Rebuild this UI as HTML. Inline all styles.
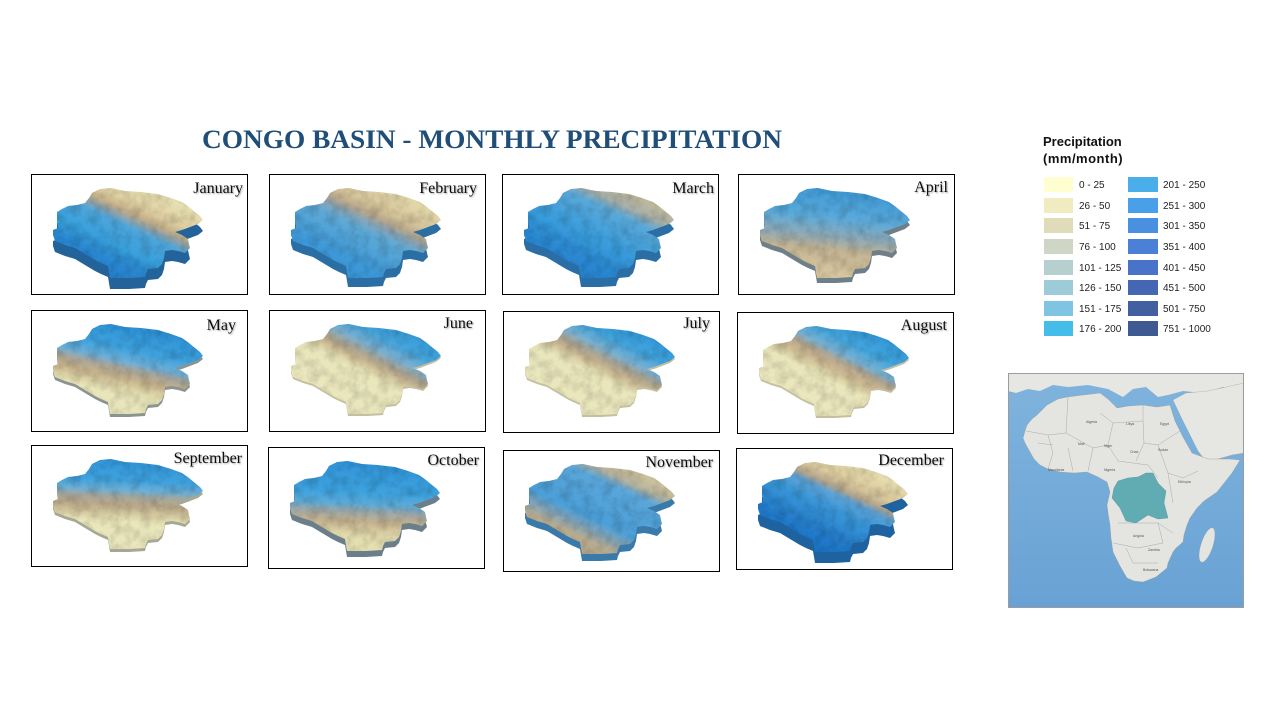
<!DOCTYPE html>
<html><head><meta charset="utf-8"><style>
html,body{margin:0;padding:0;background:#fff;}
svg{display:block;}
.m{font-family:"Liberation Serif",serif;font-size:16px;fill:#111;text-anchor:end;}
.lg{font-family:"Liberation Sans",sans-serif;font-size:10px;fill:#222;}
.ml{font-family:"Liberation Sans",sans-serif;font-size:3.5px;fill:#555;}
</style></head><body>
<svg width="1280" height="720" viewBox="0 0 1280 720" xmlns="http://www.w3.org/2000/svg">
<defs>
<path id="P" d="M69,15 L80,14 L94,17 L110,18 L127,20 L140,24 L151,28 L158,33 L164,38 L169,42 L172,46 L167,50 L159,53 L151,56 L144,58 L151,61 L157,65 L158,70 L159,74 L154,79 L147,77 L141,76 L134,77 L133,84 L131,90 L127,94 L117,95 L115,99 L114,103 L98,104 L79,104 L78,98 L77,92 L70,89 L64,86 L54,80 L44,74 L34,71 L24,67 L22,61 L22,56 L27,54 L26,46 L26,38 L31,35 L37,32 L46,31 L54,29 L58,24 L61,19 Z"/>
<filter id="tex" x="0" y="0" width="1" height="1">
<feTurbulence type="fractalNoise" baseFrequency="0.1" numOctaves="3" seed="4" result="n"/>
<feColorMatrix in="n" type="matrix" values="0 0 0 0 0  0 0 0 0 0  0 0 0 0 0  0.6 0 0 0 -0.22" result="d"/>
<feComposite in="d" in2="SourceAlpha" operator="in" result="m"/>
<feMerge><feMergeNode in="SourceGraphic"/><feMergeNode in="m"/></feMerge>
</filter>
<filter id="sh" x="-10%" y="-20%" width="130%" height="160%">
<feDropShadow dx="1" dy="1" stdDeviation="0.8" flood-color="#000" flood-opacity="0.35"/>
</filter>
<linearGradient id="gJan" gradientUnits="userSpaceOnUse" x1="117" y1="8" x2="80" y2="88"><stop offset="0" stop-color="#ebe5b8"/><stop offset="0.28" stop-color="#e0d2a4"/><stop offset="0.4" stop-color="#c3ae88"/><stop offset="0.48" stop-color="#8ea5b0"/><stop offset="0.56" stop-color="#4ea6db"/><stop offset="0.8" stop-color="#3aa0dc"/><stop offset="1" stop-color="#2a85cf"/></linearGradient>
<linearGradient id="gFeb" gradientUnits="userSpaceOnUse" x1="117" y1="8" x2="80" y2="88"><stop offset="0" stop-color="#e8dfb0"/><stop offset="0.28" stop-color="#d8c79c"/><stop offset="0.4" stop-color="#b9a88c"/><stop offset="0.5" stop-color="#86a5b8"/><stop offset="0.6" stop-color="#5faad7"/><stop offset="1" stop-color="#3d98d8"/></linearGradient>
<linearGradient id="gMar" gradientUnits="userSpaceOnUse" x1="117" y1="8" x2="80" y2="88"><stop offset="0" stop-color="#cdbf98"/><stop offset="0.22" stop-color="#a7b0aa"/><stop offset="0.34" stop-color="#5aa8d8"/><stop offset="0.7" stop-color="#3a9ddc"/><stop offset="1" stop-color="#2b86d0"/></linearGradient>
<linearGradient id="gApr" gradientUnits="userSpaceOnUse" x1="100" y1="10" x2="90" y2="105"><stop offset="0" stop-color="#3b96d5"/><stop offset="0.35" stop-color="#5aaadb"/><stop offset="0.55" stop-color="#8eaab8"/><stop offset="0.7" stop-color="#c4b493"/><stop offset="1" stop-color="#dbcca3"/></linearGradient>
<linearGradient id="gMay" gradientUnits="userSpaceOnUse" x1="95" y1="10" x2="75" y2="100"><stop offset="0" stop-color="#2c8fd5"/><stop offset="0.3" stop-color="#3ea2de"/><stop offset="0.44" stop-color="#6fb0d8"/><stop offset="0.52" stop-color="#a9a69a"/><stop offset="0.62" stop-color="#c6b28c"/><stop offset="0.72" stop-color="#dcd3a6"/><stop offset="0.8" stop-color="#e9e6ba"/><stop offset="1" stop-color="#eae7bd"/></linearGradient>
<linearGradient id="gJun" gradientUnits="userSpaceOnUse" x1="130" y1="5" x2="90" y2="85"><stop offset="0" stop-color="#2f95d8"/><stop offset="0.3" stop-color="#45a5dc"/><stop offset="0.45" stop-color="#7aafcf"/><stop offset="0.55" stop-color="#a9a697"/><stop offset="0.62" stop-color="#c2b08e"/><stop offset="0.7" stop-color="#ddd4a8"/><stop offset="0.76" stop-color="#e9e6bc"/><stop offset="1" stop-color="#eae7bd"/></linearGradient>
<linearGradient id="gJul" gradientUnits="userSpaceOnUse" x1="130" y1="5" x2="90" y2="85"><stop offset="0" stop-color="#2a93d8"/><stop offset="0.32" stop-color="#42a4dd"/><stop offset="0.47" stop-color="#7ab0d0"/><stop offset="0.56" stop-color="#a9a697"/><stop offset="0.64" stop-color="#c2b08e"/><stop offset="0.72" stop-color="#ddd4a8"/><stop offset="0.78" stop-color="#e9e6bc"/><stop offset="1" stop-color="#eae7bd"/></linearGradient>
<linearGradient id="gAug" gradientUnits="userSpaceOnUse" x1="130" y1="5" x2="90" y2="85"><stop offset="0" stop-color="#2a8fd6"/><stop offset="0.35" stop-color="#45a7de"/><stop offset="0.5" stop-color="#7ab0d0"/><stop offset="0.57" stop-color="#b0a894"/><stop offset="0.66" stop-color="#c8b38e"/><stop offset="0.76" stop-color="#ddd3a7"/><stop offset="0.82" stop-color="#e9e6bc"/><stop offset="1" stop-color="#eae7bd"/></linearGradient>
<linearGradient id="gSep" gradientUnits="userSpaceOnUse" x1="100" y1="5" x2="95" y2="105"><stop offset="0" stop-color="#2d8fd5"/><stop offset="0.3" stop-color="#3fa2de"/><stop offset="0.4" stop-color="#6cb0d8"/><stop offset="0.47" stop-color="#a5a79c"/><stop offset="0.55" stop-color="#bba98a"/><stop offset="0.65" stop-color="#d8cea3"/><stop offset="0.72" stop-color="#e9e6ba"/><stop offset="1" stop-color="#eae7bd"/></linearGradient>
<linearGradient id="gOct" gradientUnits="userSpaceOnUse" x1="100" y1="5" x2="95" y2="105"><stop offset="0" stop-color="#2d8fd6"/><stop offset="0.4" stop-color="#3ea2de"/><stop offset="0.52" stop-color="#5cabd8"/><stop offset="0.6" stop-color="#9ea9ab"/><stop offset="0.7" stop-color="#c4b18e"/><stop offset="0.84" stop-color="#e2dbad"/><stop offset="1" stop-color="#e8e4b6"/></linearGradient>
<linearGradient id="gNov" gradientUnits="userSpaceOnUse" x1="117" y1="8" x2="80" y2="88"><stop offset="0" stop-color="#d9cba0"/><stop offset="0.2" stop-color="#b9b49e"/><stop offset="0.32" stop-color="#5aa6da"/><stop offset="0.75" stop-color="#4c9fd8"/><stop offset="0.9" stop-color="#8ea8b4"/><stop offset="1" stop-color="#b7ab8f"/></linearGradient>
<linearGradient id="gDec" gradientUnits="userSpaceOnUse" x1="117" y1="8" x2="80" y2="88"><stop offset="0" stop-color="#ebe4b6"/><stop offset="0.28" stop-color="#dccb9e"/><stop offset="0.4" stop-color="#b4a58c"/><stop offset="0.48" stop-color="#5fa3d6"/><stop offset="0.65" stop-color="#3a97d8"/><stop offset="1" stop-color="#2378c8"/></linearGradient>
<linearGradient id="ocean" x1="0" y1="0" x2="0" y2="1"><stop offset="0" stop-color="#80b4de"/><stop offset="1" stop-color="#68a2d4"/></linearGradient>
<clipPath id="mapclip"><rect x="0" y="0" width="236" height="235"/></clipPath>
</defs>

<rect width="1280" height="720" fill="#fff"/>

<text x="202" y="148" textLength="580" lengthAdjust="spacingAndGlyphs" style="font-family:'Liberation Serif',serif;font-weight:bold;font-size:26px;fill:#1f4e79;">CONGO BASIN - MONTHLY PRECIPITATION</text>

<!-- Panels -->
<g transform="translate(31,174)">
<rect x="0.5" y="0.5" width="216" height="120" fill="#fff" stroke="#000" stroke-width="1"/>
<use href="#P" transform="translate(0,11)" fill="#23639a"/>
<use href="#P" fill="url(#gJan)" filter="url(#tex)"/>
<text class="m" x="212" y="19" filter="url(#sh)">January</text>
</g>
<g transform="translate(269,174)">
<rect x="0.5" y="0.5" width="216" height="120" fill="#fff" stroke="#000" stroke-width="1"/>
<use href="#P" transform="translate(0,9)" fill="#2a6ea3"/>
<use href="#P" fill="url(#gFeb)" filter="url(#tex)"/>
<text class="m" x="208" y="19" filter="url(#sh)">February</text>
</g>
<g transform="translate(502,174)">
<rect x="0.5" y="0.5" width="216" height="120" fill="#fff" stroke="#000" stroke-width="1"/>
<use href="#P" transform="translate(0,9)" fill="#2b6da5"/>
<use href="#P" fill="url(#gMar)" filter="url(#tex)"/>
<text class="m" x="212" y="19" filter="url(#sh)">March</text>
</g>
<g transform="translate(738,174)">
<rect x="0.5" y="0.5" width="216" height="120" fill="#fff" stroke="#000" stroke-width="1"/>
<use href="#P" transform="translate(0,5)" fill="#6f7f88"/>
<use href="#P" fill="url(#gApr)" filter="url(#tex)"/>
<text class="m" x="210" y="18" filter="url(#sh)">April</text>
</g>

<g transform="translate(31,310)">
<rect x="0.5" y="0.5" width="216" height="121" fill="#fff" stroke="#000" stroke-width="1"/>
<use href="#P" transform="translate(0,3)" fill="#8c9490"/>
<use href="#P" fill="url(#gMay)" filter="url(#tex)"/>
<text class="m" x="205" y="20" filter="url(#sh)">May</text>
</g>
<g transform="translate(269,310)">
<rect x="0.5" y="0.5" width="216" height="121" fill="#fff" stroke="#000" stroke-width="1"/>
<use href="#P" transform="translate(0,2)" fill="#c4bf9f"/>
<use href="#P" fill="url(#gJun)" filter="url(#tex)"/>
<text class="m" x="204" y="18" filter="url(#sh)">June</text>
</g>
<g transform="translate(503,311)">
<rect x="0.5" y="0.5" width="216" height="121" fill="#fff" stroke="#000" stroke-width="1"/>
<use href="#P" transform="translate(0,2)" fill="#c4bf9f"/>
<use href="#P" fill="url(#gJul)" filter="url(#tex)"/>
<text class="m" x="207" y="17" filter="url(#sh)">July</text>
</g>
<g transform="translate(737,312)">
<rect x="0.5" y="0.5" width="216" height="121" fill="#fff" stroke="#000" stroke-width="1"/>
<use href="#P" transform="translate(0,2)" fill="#c4bf9f"/>
<use href="#P" fill="url(#gAug)" filter="url(#tex)"/>
<text class="m" x="210" y="18" filter="url(#sh)">August</text>
</g>

<g transform="translate(31,445)">
<rect x="0.5" y="0.5" width="216" height="121" fill="#fff" stroke="#000" stroke-width="1"/>
<use href="#P" transform="translate(0,3)" fill="#a6a894"/>
<use href="#P" fill="url(#gSep)" filter="url(#tex)"/>
<text class="m" x="211" y="18" filter="url(#sh)">September</text>
</g>
<g transform="translate(268,447)">
<rect x="0.5" y="0.5" width="216" height="121" fill="#fff" stroke="#000" stroke-width="1"/>
<use href="#P" transform="translate(0,6)" fill="#6a7f8a"/>
<use href="#P" fill="url(#gOct)" filter="url(#tex)"/>
<text class="m" x="211" y="18" filter="url(#sh)">October</text>
</g>
<g transform="translate(503,450)">
<rect x="0.5" y="0.5" width="216" height="121" fill="#fff" stroke="#000" stroke-width="1"/>
<use href="#P" transform="translate(0,7)" fill="#3a7aaa"/>
<use href="#P" fill="url(#gNov)" filter="url(#tex)"/>
<text class="m" x="210" y="17" filter="url(#sh)">November</text>
</g>
<g transform="translate(736,448)">
<rect x="0.5" y="0.5" width="216" height="121" fill="#fff" stroke="#000" stroke-width="1"/>
<use href="#P" transform="translate(0,11)" fill="#1f62a0"/>
<use href="#P" fill="url(#gDec)" filter="url(#tex)"/>
<text class="m" x="208" y="17" filter="url(#sh)">December</text>
</g>

<!-- Legend -->
<text x="1043" y="146" style="font-family:'Liberation Sans',sans-serif;font-weight:bold;font-size:13px;fill:#111;">Precipitation</text>
<text x="1043" y="163" style="font-family:'Liberation Sans',sans-serif;font-weight:bold;font-size:13px;fill:#111;letter-spacing:0.5px;">(mm/month)</text>
<g>
<rect x="1044" y="177" width="29" height="15" fill="#fefed0"/><text class="lg" x="1079" y="188">0 - 25</text>
<rect x="1044" y="198" width="29" height="15" fill="#f0ebc0"/><text class="lg" x="1079" y="209">26 - 50</text>
<rect x="1044" y="218" width="29" height="15" fill="#e0dbb8"/><text class="lg" x="1079" y="229">51 - 75</text>
<rect x="1044" y="239" width="29" height="15" fill="#d0d6c5"/><text class="lg" x="1079" y="250">76 - 100</text>
<rect x="1044" y="260" width="29" height="15" fill="#b6cfcf"/><text class="lg" x="1079" y="271">101 - 125</text>
<rect x="1044" y="280" width="29" height="15" fill="#9ecbd8"/><text class="lg" x="1079" y="291">126 - 150</text>
<rect x="1044" y="301" width="29" height="15" fill="#7fc4e2"/><text class="lg" x="1079" y="312">151 - 175</text>
<rect x="1044" y="321" width="29" height="15" fill="#45bde9"/><text class="lg" x="1079" y="332">176 - 200</text>
<rect x="1128" y="177" width="30" height="15" fill="#4aaeea"/><text class="lg" x="1163" y="188">201 - 250</text>
<rect x="1128" y="198" width="30" height="15" fill="#4aa0e8"/><text class="lg" x="1163" y="209">251 - 300</text>
<rect x="1128" y="218" width="30" height="15" fill="#4a90e0"/><text class="lg" x="1163" y="229">301 - 350</text>
<rect x="1128" y="239" width="30" height="15" fill="#4a80d6"/><text class="lg" x="1163" y="250">351 - 400</text>
<rect x="1128" y="260" width="30" height="15" fill="#4873c8"/><text class="lg" x="1163" y="271">401 - 450</text>
<rect x="1128" y="280" width="30" height="15" fill="#4466b4"/><text class="lg" x="1163" y="291">451 - 500</text>
<rect x="1128" y="301" width="30" height="15" fill="#42609f"/><text class="lg" x="1163" y="312">501 - 750</text>
<rect x="1128" y="321" width="30" height="15" fill="#3f5a92"/><text class="lg" x="1163" y="332">751 - 1000</text>
</g>

<!-- Locator map -->
<g transform="translate(1008,373)">
<g clip-path="url(#mapclip)">
<rect x="0" y="0" width="236" height="235" fill="url(#ocean)"/>
<!-- Europe -->
<path d="M0,0 L236,0 L236,16 L215,14 L195,20 L175,18 L160,22 L150,24 L138,14 L125,16 L115,24 L100,16 L80,12 L60,14 L45,12 L32,18 L20,16 L8,20 L0,18 Z" fill="#e6e7e3"/>
<!-- Arabia / Middle East -->
<path d="M165,27 L178,20 L200,18 L236,10 L236,80 L224,82 L210,86 L197,87 L190,78 L182,62 L174,46 Z" fill="#e6e7e3" stroke="#9a9a9a" stroke-width="0.3"/>
<!-- Africa -->
<path d="M39,32 L50,26 L59,24 L75,22 L92,20 L100,26 L109,35 L120,33 L135,32 L149,34 L162,32 L167,48 L175,64 L184,80 L200,86 L222,86 L232,87 L224,100 L209,119 L196,128 L189,135 L182,145 L179,152 L176,162 L175,169 L168,175 L165,179 L160,190 L159,195 L148,204 L135,209 L126,208 L119,205 L112,193 L105,179 L103,165 L102,152 L100,140 L99,132 L102,119 L99,109 L90,104 L79,99 L66,100 L52,99 L40,96 L32,92 L26,86 L22,79 L17,70 L15,65 L17,58 L19,52 L24,46 L29,42 Z" fill="#e4e5e1" stroke="#9a9a9a" stroke-width="0.4"/>
<!-- Madagascar -->
<ellipse cx="199" cy="172" rx="6" ry="18" transform="rotate(18 199 172)" fill="#e4e5e1" stroke="#9a9a9a" stroke-width="0.3"/>
<!-- borders -->
<g fill="none" stroke="#9a9a9a" stroke-width="0.4">
<path d="M60,24 L58,60 L40,62 M58,60 L85,75 L100,72 L105,50 L92,40 M105,50 L135,48 L135,32 M135,48 L136,70 L150,72 L172,58 M100,72 L110,88 L125,90 L140,92 L150,105 M85,75 L80,98 M136,70 L128,88 M150,72 L160,100 L175,105 L190,98 M160,100 L165,130 M110,150 L150,150 L155,170 L130,175 L105,170 M118,175 L125,190 L150,190 M150,150 L165,160"/>
<path d="M18,58 L40,62 L45,80 L40,96 M30,70 L45,72 M60,75 L65,98"/>
</g>
<!-- Congo Basin -->
<path d="M110,108 L120,105 L130,104 L138,100 L145,100 L150,110 L158,118 L156,130 L160,145 L150,146 L140,142 L128,150 L118,148 L112,135 L104,125 L106,115 Z" fill="#5aa9b0" stroke="#4a8f96" stroke-width="0.4" opacity="0.95"/>
<!-- tiny labels -->
<text class="ml" x="78" y="50">Algeria</text>
<text class="ml" x="118" y="52">Libya</text>
<text class="ml" x="152" y="52">Egypt</text>
<text class="ml" x="70" y="72">Mali</text>
<text class="ml" x="96" y="74">Niger</text>
<text class="ml" x="122" y="80">Chad</text>
<text class="ml" x="150" y="78">Sudan</text>
<text class="ml" x="96" y="98">Nigeria</text>
<text class="ml" x="170" y="110">Ethiopia</text>
<text class="ml" x="125" y="164">Angola</text>
<text class="ml" x="140" y="178">Zambia</text>
<text class="ml" x="135" y="198">Botswana</text>
<text class="ml" x="40" y="98">Mauritania</text>
</g>
<rect x="0.5" y="0.5" width="235" height="234" fill="none" stroke="#9c9c9c" stroke-width="1"/>
</g>
</svg>
</body></html>
